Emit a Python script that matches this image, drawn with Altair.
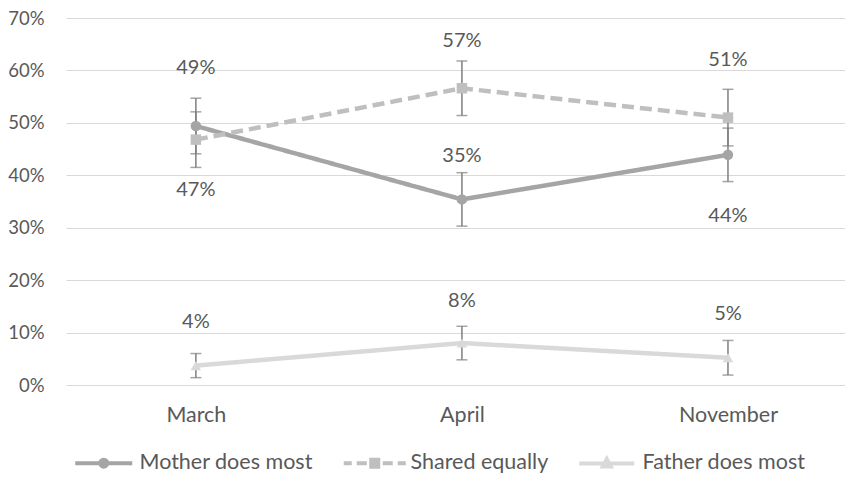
import altair as alt
import pandas as pd

months = ["March", "April", "November"]
series = ["Mother does most", "Shared equally", "Father does most"]
mother = [49.4, 35.4, 43.9]
shared = [46.8, 56.6, 51.0]
father = [3.7, 8.0, 5.2]
mother_err = [5.3, 5.1, 5.1]
shared_err = [5.3, 5.2, 5.4]
father_err = [2.3, 3.2, 3.3]
labels_mother = ["49%", "35%", "44%"]
labels_shared = ["47%", "57%", "51%"]
labels_father = ["4%", "8%", "5%"]

# styling: label offsets in pixels (negative = above the point)
label_dy = {
    "Mother does most": [-58, -43, 61],
    "Shared equally": [50, -47, -58],
    "Father does most": [-44, -42, -44],
}
colors = ["#A5A5A5", "#BFBFBF", "#D9D9D9"]
marker = {"Mother does most": "circle", "Shared equally": "square", "Father does most": "triangle-up"}
dash = {"Mother does most": [1, 0], "Shared equally": [12, 6], "Father does most": [1, 0]}
legend_paths = [
    "M-5.7,0L5.7,0M-0.7,0A0.7,0.7 0 1,0 0.7,0A0.7,0.7 0 1,0 -0.7,0Z",
    "M-6.2,0L-4.6,0M-3.6,0L-1.6,0M-0.7,-0.7L0.7,-0.7L0.7,0.7L-0.7,0.7ZM1.6,0L3.6,0M4.6,0L6.2,0",
    "M-5.5,0L5.5,0M0,-0.9L0.8,0.6L-0.8,0.6Z",
]

PLOT_H = 367
Y_MAX = 70

rows = []
for s, vals, errs, labs in [
    (series[0], mother, mother_err, labels_mother),
    (series[1], shared, shared_err, labels_shared),
    (series[2], father, father_err, labels_father),
]:
    for i, m in enumerate(months):
        rows.append({
            "month": m, "series": s, "value": vals[i],
            "lo": vals[i] - errs[i], "hi": vals[i] + errs[i],
            "label": labs[i], "dy": label_dy[s][i], "mshape": marker[s],
        })
df = pd.DataFrame(rows)

xs = alt.X("month:N", sort=months, scale=alt.Scale(type="point", domain=months, padding=0.464, align=0.526),
           axis=alt.Axis(title=None, labelAngle=0, domain=False, ticks=False, grid=False,
                         labelPadding=19, labelFontSize=21.5, labelColor="#595959"))
ys = alt.Y("value:Q", scale=alt.Scale(domain=[0, Y_MAX], nice=False),
           axis=alt.Axis(title=None, values=list(range(0, 71, 10)), labelExpr="datum.value + '%'",
                         domain=False, ticks=False, gridColor="#D9D9D9", gridWidth=1.2,
                         labelPadding=22, labelFontSize=18.5, labelColor="#595959"))

cscale = alt.Scale(domain=series, range=colors)

base = alt.Chart(df)

lines = base.mark_line(strokeWidth=4.5).encode(
    x=xs, y=ys,
    color=alt.Color("series:N", scale=cscale, legend=None),
    strokeDash=alt.StrokeDash("series:N", scale=alt.Scale(domain=series, range=[dash[s] for s in series]), legend=None),
    detail="series:N",
)

errs = base.mark_rule(color="#7F7F7F", strokeWidth=1.5).encode(
    x=xs, y=alt.Y("lo:Q"), y2="hi:Q")
cap_lo = base.mark_tick(color="#7F7F7F", thickness=1.5, size=11, orient="horizontal").encode(
    x=xs, y=alt.Y("lo:Q"))
cap_hi = base.mark_tick(color="#7F7F7F", thickness=1.5, size=11, orient="horizontal").encode(
    x=xs, y=alt.Y("hi:Q"))

points = base.mark_point(filled=True, opacity=1, size=110).encode(
    x=xs, y=ys,
    color=alt.Color("series:N", scale=cscale, legend=None),
    shape=alt.Shape("mshape:N", scale=None),
)

texts = base.transform_calculate(
    ly=f"datum.value - datum.dy * {Y_MAX} / {PLOT_H}"
).mark_text(fontSize=20, color="#595959", font="Lato", baseline="middle").encode(
    x=xs, y=alt.Y("ly:Q"), text="label:N")

leg = alt.Legend(orient="none", legendX=27, legendY=434, direction="horizontal",
                 symbolSize=100, symbolStrokeWidth=4, labelOffset=25, labelLimit=0,
                 columnPadding=22, labelFontSize=21.5, labelColor="#595959",
                 labelFont="Lato", symbolOpacity=1)

legend_layer = base.transform_filter("false").mark_point(filled=True, opacity=1, strokeWidth=4).encode(
    x=xs, y=ys,
    fill=alt.Fill("series:N", scale=cscale, title=None, legend=leg),
    stroke=alt.Stroke("series:N", scale=cscale, title=None, legend=leg),
    shape=alt.Shape("series:N", scale=alt.Scale(domain=series, range=legend_paths), title=None, legend=leg),
)

chart = alt.layer(lines, errs, cap_lo, cap_hi, points, texts, legend_layer).resolve_scale(
    color="independent", fill="independent", stroke="independent", shape="independent"
).properties(
    width=779, height=PLOT_H,
    autosize=alt.AutoSizeParams(type="none"),
    padding={"left": 58, "top": 10, "right": 0, "bottom": 90},
).configure_view(stroke=None).configure_axis(labelFont="Lato").configure_legend(labelFont="Lato")

chart.save("out.html", embed_options={"renderer": "svg", "actions": False})
